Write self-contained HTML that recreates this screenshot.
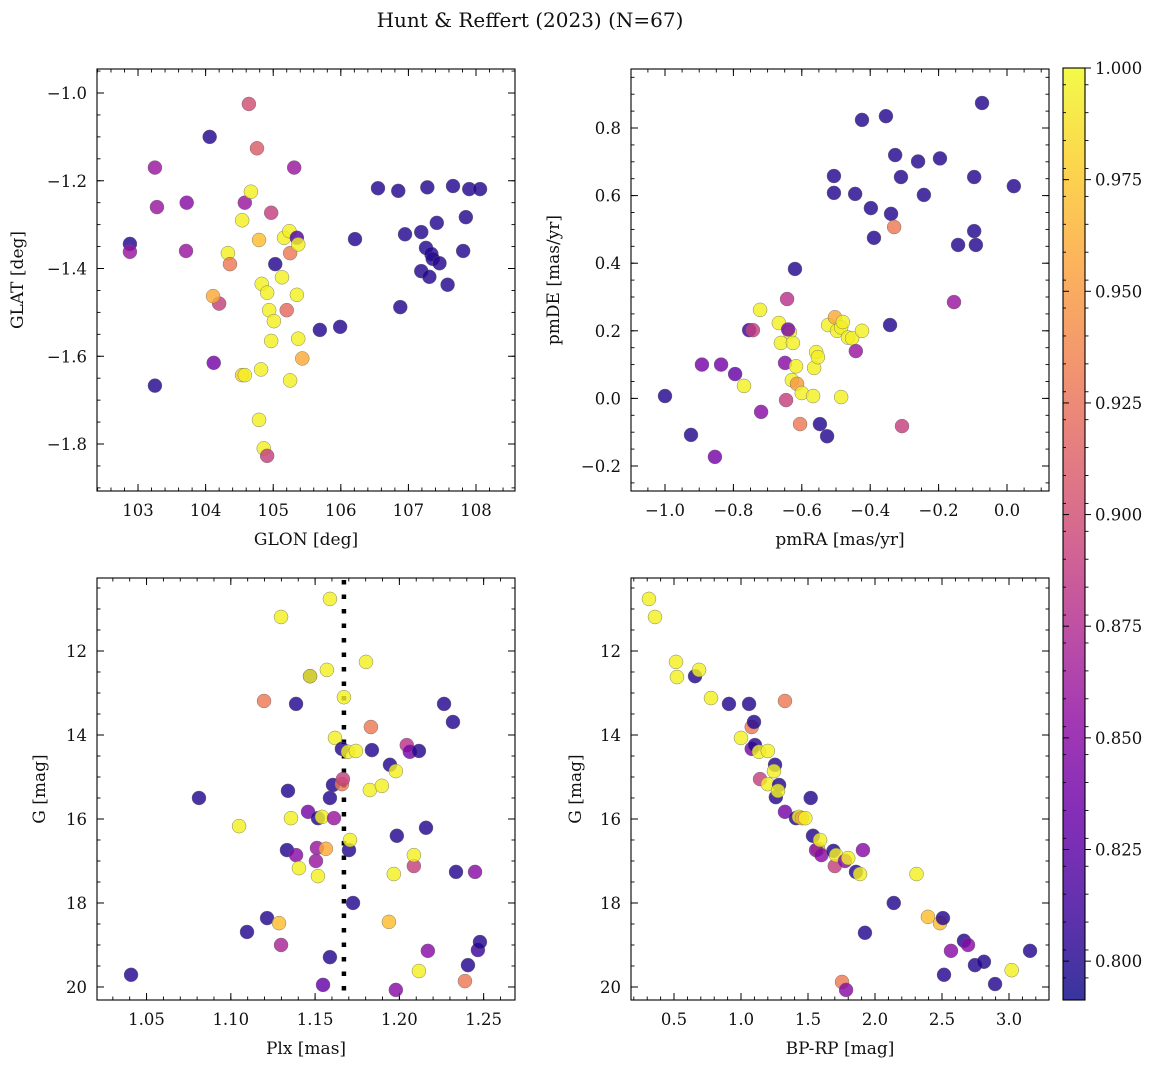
<!DOCTYPE html>
<html><head><meta charset="utf-8"><title>Hunt & Reffert (2023)</title>
<style>
html,body{margin:0;padding:0;background:#fff;}
svg{display:block;font-family:"DejaVu Serif","Liberation Serif",serif;}
</style></head>
<body>
<svg id="fig" width="1160" height="1068" viewBox="0 0 1160 1068" xmlns="http://www.w3.org/2000/svg">
<text x="530" y="27" font-size="20" text-anchor="middle" fill="#111">Hunt &amp; Reffert (2023) (N=67)</text>
</svg>
<script>
// ---- Panel 1: GLON vs GLAT ----
const tlGlon=[102.88,102.88,103.25,103.28,103.25,103.72,103.71,104.06,104.12,104.2,104.11,104.33,104.36,104.64,104.58,104.67,104.54,104.54,104.58,104.76,104.79,104.83,104.91,104.82,104.79,104.86,104.91,104.97,104.94,104.97,105.01,105.03,105.13,105.16,105.24,105.25,105.2,105.25,105.31,105.35,105.37,105.35,105.37,105.43,105.69,105.99,106.21,106.55,106.85,106.88,106.95,107.19,107.19,107.26,107.28,107.34,107.31,107.36,107.42,107.46,107.58,107.66,107.81,107.85,107.9,108.06];
const tlGlat=[-1.344,-1.362,-1.17,-1.26,-1.667,-1.25,-1.36,-1.10,-1.615,-1.48,-1.463,-1.365,-1.39,-1.025,-1.25,-1.225,-1.29,-1.643,-1.643,-1.126,-1.335,-1.435,-1.455,-1.63,-1.745,-1.81,-1.827,-1.273,-1.495,-1.565,-1.52,-1.39,-1.42,-1.33,-1.315,-1.365,-1.495,-1.655,-1.17,-1.33,-1.345,-1.46,-1.56,-1.605,-1.54,-1.533,-1.333,-1.217,-1.223,-1.488,-1.322,-1.317,-1.406,-1.353,-1.215,-1.367,-1.419,-1.378,-1.296,-1.388,-1.437,-1.212,-1.36,-1.283,-1.219,-1.219];
const tlProb=[0.80,0.86,0.86,0.86,0.80,0.85,0.86,0.80,0.84,0.89,0.96,0.995,0.93,0.90,0.86,0.995,0.995,0.98,0.995,0.91,0.97,0.995,0.995,0.995,0.995,0.995,0.89,0.89,0.995,0.995,0.995,0.80,0.995,0.995,0.995,0.93,0.92,0.995,0.86,0.82,0.995,0.995,0.995,0.96,0.80,0.80,0.80,0.80,0.80,0.80,0.80,0.80,0.80,0.80,0.80,0.80,0.80,0.80,0.80,0.80,0.80,0.80,0.80,0.80,0.80,0.80];
const tlXTicks=[103,104,105,106,107,108];
const tlYTicks=[-1.8,-1.6,-1.4,-1.2,-1.0];
// ---- Panel 2: pmRA vs pmDE ----
const trPmra=[-1.0,-0.924,-0.892,-0.854,-0.836,-0.795,-0.769,-0.754,-0.743,-0.722,-0.719,-0.667,-0.661,-0.646,-0.649,-0.643,-0.635,-0.64,-0.626,-0.62,-0.629,-0.617,-0.614,-0.605,-0.6,-0.567,-0.564,-0.558,-0.553,-0.547,-0.526,-0.523,-0.506,-0.506,-0.503,-0.497,-0.485,-0.485,-0.48,-0.465,-0.453,-0.444,-0.442,-0.424,-0.424,-0.398,-0.389,-0.354,-0.342,-0.339,-0.33,-0.327,-0.31,-0.307,-0.26,-0.243,-0.196,-0.155,-0.143,-0.096,-0.096,-0.091,-0.073,0.02];
const trPmde=[0.007,-0.108,0.10,-0.173,0.10,0.072,0.037,0.202,0.202,0.262,-0.04,0.223,0.164,-0.005,0.105,0.294,0.196,0.204,0.164,0.383,0.054,0.095,0.043,-0.076,0.016,0.007,0.09,0.137,0.122,-0.076,-0.112,0.217,0.608,0.658,0.24,0.20,0.21,0.004,0.226,0.18,0.178,0.605,0.14,0.824,0.20,0.563,0.475,0.835,0.217,0.546,0.507,0.72,0.655,-0.082,0.701,0.602,0.71,0.285,0.454,0.655,0.495,0.454,0.874,0.628];
const trProb=[0.80,0.80,0.84,0.84,0.84,0.83,0.995,0.81,0.89,0.995,0.85,0.995,0.995,0.89,0.85,0.88,0.995,0.84,0.995,0.80,0.995,0.995,0.95,0.93,0.995,0.995,0.995,0.995,0.995,0.80,0.80,0.995,0.80,0.80,0.96,0.995,0.995,0.995,0.995,0.995,0.995,0.80,0.86,0.80,0.995,0.80,0.80,0.80,0.80,0.80,0.93,0.80,0.80,0.89,0.80,0.80,0.80,0.86,0.80,0.80,0.80,0.80,0.80,0.80];
const trXTicks=[-1.0,-0.8,-0.6,-0.4,-0.2,0.0];
const trYTicks=[-0.2,0.0,0.2,0.4,0.6,0.8];
// ---- Panel 3: Plx vs G ----
const blPlx=[1.0408,1.0811,1.1049,1.1298,1.1197,1.1215,1.1096,1.1298,1.1286,1.1333,1.1339,1.1357,1.1387,1.1387,1.1404,1.1458,1.1470,1.1470,1.1505,1.1511,1.1517,1.1517,1.1541,1.1570,1.1588,1.1564,1.1588,1.1547,1.1588,1.1606,1.1618,1.1612,1.1659,1.1671,1.1659,1.1665,1.1695,1.1701,1.1707,1.1725,1.1742,1.1802,1.1831,1.1837,1.1825,1.1896,1.1938,1.1944,1.1967,1.1979,1.1979,1.1985,1.2044,1.2062,1.2086,1.2086,1.2116,1.2116,1.2158,1.2169,1.2265,1.2318,1.2336,1.2389,1.2407,1.2449,1.2466,1.2478];
const blG=[19.71,15.5,16.17,11.19,13.19,18.36,18.69,19.0,18.48,16.74,15.33,15.98,13.26,16.86,17.17,15.83,12.6,12.6,17.0,16.69,17.36,15.98,15.95,12.45,10.76,16.71,19.29,19.95,15.5,15.19,14.07,15.98,15.17,13.1,14.33,15.05,14.4,16.74,16.5,18.0,14.38,12.26,13.81,14.36,15.31,15.21,18.45,14.71,17.31,14.86,20.07,16.4,14.24,14.4,17.12,16.86,19.62,14.38,16.21,19.14,13.26,13.69,17.26,19.86,19.48,17.26,19.12,18.93];
const blProb=[0.80,0.80,0.995,0.995,0.93,0.80,0.80,0.87,0.97,0.80,0.80,0.995,0.80,0.85,0.995,0.84,0.80,0.995,0.86,0.86,0.995,0.80,0.995,0.995,0.995,0.96,0.80,0.83,0.80,0.80,0.995,0.86,0.93,0.995,0.80,0.89,0.995,0.80,0.995,0.80,0.995,0.995,0.93,0.80,0.995,0.995,0.97,0.80,0.995,0.995,0.85,0.80,0.88,0.84,0.89,0.995,0.995,0.80,0.80,0.85,0.80,0.80,0.80,0.93,0.80,0.85,0.81,0.80];
const blRefPlx=[1.1671];
const blXTicks=[1.05,1.10,1.15,1.20,1.25];
const gTicks=[12,14,16,18,20];
// ---- Panel 4: BP-RP vs G ----
const brColor=[0.313,0.358,0.515,0.522,0.657,0.687,0.776,0.91,1.0,1.06,1.08,1.097,1.08,1.104,1.134,1.142,1.2,1.2,1.254,1.246,1.26,1.284,1.276,1.328,1.328,1.41,1.433,1.455,1.48,1.52,1.537,1.575,1.56,1.59,1.6,1.69,1.7,1.71,1.776,1.8,1.858,1.888,1.91,1.925,2.14,2.31,2.395,2.485,2.507,2.515,2.567,2.664,2.694,2.746,2.813,2.896,3.02,3.157,1.754,1.784];
const brG=[10.76,11.19,12.26,12.62,12.6,12.45,13.12,13.26,14.07,13.26,13.81,13.69,14.33,14.24,14.4,15.05,14.38,15.17,14.71,14.86,15.48,15.19,15.33,13.19,15.83,15.98,15.95,15.98,15.98,15.5,16.4,16.71,16.74,16.5,16.86,16.76,17.12,16.86,17.0,16.93,17.26,17.31,16.74,18.71,18.0,17.31,18.33,18.48,18.36,19.71,19.14,18.9,19.0,19.48,19.4,19.93,19.6,19.14,19.88,20.07];
const brProb=[0.995,0.995,0.995,0.995,0.80,0.995,0.995,0.80,0.995,0.80,0.93,0.80,0.84,0.80,0.995,0.89,0.995,0.995,0.80,0.995,0.80,0.80,0.995,0.93,0.84,0.80,0.995,0.96,0.995,0.80,0.80,0.96,0.85,0.995,0.85,0.80,0.89,0.995,0.85,0.995,0.80,0.995,0.85,0.80,0.80,0.995,0.97,0.97,0.80,0.80,0.85,0.80,0.85,0.80,0.80,0.80,0.995,0.80,0.93,0.85];
const brXTicks=[0.5,1.0,1.5,2.0,2.5,3.0];
// ---- Colorbar ----
const cbTicks=[0.800,0.825,0.850,0.875,0.900,0.925,0.950,0.975,1.000];
const cbMin=0.7913, cbMax=1.0;

const NS="http://www.w3.org/2000/svg";
const svg=document.getElementById('fig');
const plasma=[[13,8,135],[65,4,157],[106,0,168],[143,13,164],[177,42,144],[204,71,120],[225,100,98],[242,132,75],[252,166,54],[252,206,37],[240,249,33]];
function cmap(p){
  let t=(p-cbMin)/(cbMax-cbMin); t=Math.max(0,Math.min(1,t));
  const f=t*10, i=Math.min(9,Math.floor(f)), r=f-i;
  const a=plasma[i], b=plasma[i+1];
  return 'rgb('+[0,1,2].map(k=>Math.round(a[k]+(b[k]-a[k])*r)).join(',')+')';
}
function el(tag,attrs,parent){
  const e=document.createElementNS(NS,tag);
  for(const k in attrs) e.setAttribute(k,attrs[k]);
  (parent||svg).appendChild(e); return e;
}
function fmt(v,d){const s=v.toFixed(d);return v<0?'\u2212'+s.slice(1):s;}

function panel(cfg){
  const g=el('g',{});
  
  
  const {x0,y0,w,h}=cfg;
  const sx=v=>x0+(v-cfg.xmin)/(cfg.xmax-cfg.xmin)*w;
  const sy=cfg.yInv? (v=>y0+(v-cfg.ymin)/(cfg.ymax-cfg.ymin)*h) : (v=>y0+h-(v-cfg.ymin)/(cfg.ymax-cfg.ymin)*h);
  const step=cfg.xt[1]-cfg.xt[0];
  const xs=step/cfg.xm;
  for(let v=cfg.xt[0]-step*3; v<=cfg.xmax+1e-9; v+=xs){
    if(v<cfg.xmin) continue;
    const X=sx(v);
    const mn=el('line',{x1:X,x2:X,y1:y0+h,y2:y0+h-3.5,stroke:'#000','stroke-width':0.9},g);
    
    
    el('line',{x1:X,x2:X,y1:y0,y2:y0+3.5,stroke:'#000','stroke-width':0.9},g);
  }
  const ystep=cfg.yt[1]-cfg.yt[0], ys=ystep/cfg.ym;
  for(let v=cfg.yt[0]-ystep*3; v<=Math.max(cfg.ymax,cfg.ymin)+1e-9; v+=ys){
    if(v<Math.min(cfg.ymin,cfg.ymax)) continue;
    const Y=sy(v);
    const mn=el('line',{x1:x0,x2:x0+3.5,y1:Y,y2:Y,stroke:'#000','stroke-width':0.9},g);
    
    
    el('line',{x1:x0+w,x2:x0+w-3.5,y1:Y,y2:Y,stroke:'#000','stroke-width':0.9},g);
  }
  cfg.xt.forEach(v=>{
    const X=sx(v);
    el('line',{x1:X,x2:X,y1:y0+h,y2:y0+h-7,stroke:'#000','stroke-width':1},g);
    el('line',{x1:X,x2:X,y1:y0,y2:y0+7,stroke:'#000','stroke-width':1},g);
    const t=el('text',{x:X,y:y0+h+25,'font-size':16.5,'text-anchor':'middle',fill:'#111'},g);
    
    
    t.textContent=fmt(v,cfg.xd);
  });
  cfg.yt.forEach(v=>{
    const Y=sy(v);
    el('line',{x1:x0,x2:x0+7,y1:Y,y2:Y,stroke:'#000','stroke-width':1},g);
    el('line',{x1:x0+w,x2:x0+w-7,y1:Y,y2:Y,stroke:'#000','stroke-width':1},g);
    const t=el('text',{x:x0-10,y:Y+6,'font-size':16.5,'text-anchor':'end',fill:'#111'},g);
    
    
    t.textContent=fmt(v,cfg.yd);
  });
  if(cfg.vline){
    cfg.vline.forEach(v=>{
      const l=el('line',{x1:sx(v),x2:sx(v),y1:y0+2,y2:y0+h,stroke:'#000','stroke-width':4.5,'stroke-dasharray':'4.5,10'},g);
      
      
    });
  }
  const pts=el('g',{},g);
  
  
  cfg.xs.forEach((xv,i)=>{
    if(cfg.ys[i]===undefined) return;
    const c=el('circle',{cx:sx(xv),cy:sy(cfg.ys[i]),r:7,fill:cmap(cfg.ps[i]),'fill-opacity':0.82,stroke:'#666','stroke-width':0.5,'stroke-opacity':0.8},pts);
    
    
  });
  const fr=el('rect',{x:x0,y:y0,width:w,height:h,fill:'none',stroke:'#000','stroke-width':1.1},g);
  
  
  const xl=el('text',{x:x0+w/2,y:y0+h+54,'font-size':17,'text-anchor':'middle',fill:'#111'},g);
  
  
  xl.textContent=cfg.xlabel;
  const yl=el('text',{x:cfg.ylx,y:y0+h/2,'font-size':17,'text-anchor':'middle',fill:'#111',transform:'rotate(-90 '+cfg.ylx+' '+(y0+h/2)+')'},g);
  
  
  yl.textContent=cfg.ylabel;
}

panel({name:'glon-glat-panel',x0:97,y0:69,w:418,h:422,xmin:102.393,xmax:108.577,ymin:-1.9071,ymax:-0.9453,
  xt:tlXTicks,yt:tlYTicks,xm:5,ym:4,xd:0,yd:1,xs:tlGlon,ys:tlGlat,ps:tlProb,xlabel:'GLON [deg]',ylabel:'GLAT [deg]',ylx:23});
panel({name:'proper-motion-panel',x0:631,y0:69,w:418,h:422,xmin:-1.0994,xmax:0.1228,ymin:-0.274,ymax:0.9746,
  xt:trXTicks,yt:trYTicks,xm:4,ym:4,xd:1,yd:1,xs:trPmra,ys:trPmde,ps:trProb,xlabel:'pmRA [mas/yr]',ylabel:'pmDE [mas/yr]',ylx:559});
panel({name:'parallax-magnitude-panel',x0:97,y0:578,w:418,h:422,xmin:1.0206,xmax:1.2686,ymin:10.262,ymax:20.31,yInv:true,
  xt:blXTicks,yt:gTicks,xm:5,ym:4,xd:2,yd:0,xs:blPlx,ys:blG,ps:blProb,vline:blRefPlx,xlabel:'Plx [mas]',ylabel:'G [mag]',ylx:45});
panel({name:'color-magnitude-panel',x0:631,y0:578,w:418,h:422,xmin:0.179,xmax:3.2985,ymin:10.262,ymax:20.31,yInv:true,
  xt:brXTicks,yt:gTicks,xm:5,ym:4,xd:1,yd:0,xs:brColor,ys:brG,ps:brProb,xlabel:'BP-RP [mag]',ylabel:'G [mag]',ylx:581});

(function(){
  const cb=el('g',{});
  
  
  const x0=1063,y0=68,w=22,h=932;
  const defs=el('defs',{},cb);
  const lg=el('linearGradient',{id:'cbg',x1:0,y1:1,x2:0,y2:0},defs);
  for(let i=0;i<=20;i++){
    const p=cbMin+(cbMax-cbMin)*i/20;
    el('stop',{offset:(i/20),'stop-color':cmap(p),'stop-opacity':0.82},lg);
  }
  const r=el('rect',{x:x0,y:y0,width:w,height:h,fill:'url(#cbg)',stroke:'#000','stroke-width':1.1},cb);
  
  
  const sy=v=>y0+h-(v-cbMin)/(cbMax-cbMin)*h;
  for(let v=0.79;v<=1.0001;v+=0.00625){
    if(v<cbMin) continue;
    const Y=sy(v);
    el('line',{x1:x0+w,x2:x0+w+3.5,y1:Y,y2:Y,stroke:'#000','stroke-width':0.9},cb);
    el('line',{x1:x0,x2:x0+3,y1:Y,y2:Y,stroke:'#000','stroke-width':0.9},cb);
  }
  cbTicks.forEach(v=>{
    const Y=sy(v);
    el('line',{x1:x0+w,x2:x0+w+6,y1:Y,y2:Y,stroke:'#000','stroke-width':1},cb);
    el('line',{x1:x0,x2:x0+6,y1:Y,y2:Y,stroke:'#000','stroke-width':1},cb);
    const t=el('text',{x:x0+w+10,y:Y+6,'font-size':16.5,fill:'#111'},cb);
    
    
    t.textContent=v.toFixed(3);
  });
})();
</script>
</body></html>
